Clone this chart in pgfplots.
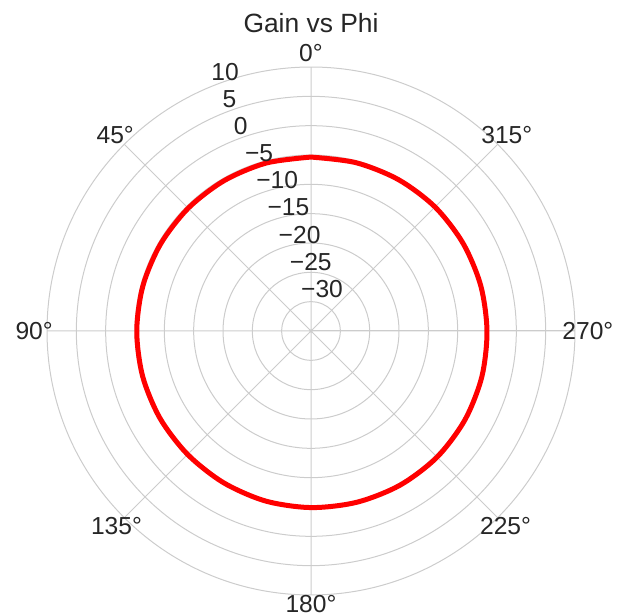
\documentclass[border=0pt]{standalone}
\usepackage{pgfplots}
\pgfplotsset{compat=1.18}
\usepgfplotslibrary{polar}
\usepackage{pgfplotstable}
\usepackage{fontspec}
\setmainfont{Liberation Sans}
\definecolor{gridgray}{HTML}{CCCCCC}
\definecolor{txt}{HTML}{262626}
\pgfplotstableread{
phi gain
0 -5.35
15 -5.37
30 -5.40
45 -5.40
60 -5.38
75 -5.33
90 -5.30
105 -5.28
120 -5.27
135 -5.25
150 -5.15
165 -5.00
180 -4.90
195 -4.78
210 -4.65
225 -4.60
240 -4.70
255 -4.85
270 -5.00
285 -5.05
300 -5.08
315 -5.10
330 -5.20
345 -5.30
360 -5.35
}\gaindata
\begin{document}
\begin{tikzpicture}
\begin{polaraxis}[
  width=264pt, height=264pt, scale only axis,
  ymin=0, ymax=45,
  xtick={0,45,...,315},
  ytick={5,10,...,40},
  xticklabels={}, yticklabels={},
  major tick length=0pt,
  grid=major,
  major grid style={draw=gridgray, line width=0.5pt},
  axis line style={draw=gridgray, line width=0.5pt},
  clip=false,
  font=\fontsize{12.3}{14}\selectfont,
]
\addplot[red, line width=2.5pt, smooth] table[x expr=\thisrow{phi}+90, y expr=\thisrow{gain}+35] {\gaindata};
\coordinate (C) at (axis cs:0,0);
% angular labels
\node[txt, anchor=center] at (axis cs:90,47.4) {0°};
\node[txt, anchor=center] at (axis cs:135,47.2) {45°};
\node[txt, anchor=center] at (axis cs:180,47.2) {90°};
\node[txt, anchor=center] at (axis cs:225,46.9) {135°};
\node[txt, anchor=center] at (axis cs:270,46.5) {180°};
\node[txt, anchor=center] at (axis cs:315,46.9) {225°};
\node[txt, anchor=center] at (axis cs:0,47.2) {270°};
\node[txt, anchor=center] at (axis cs:45,47.2) {315°};
% radial labels
\node[txt, anchor=south west, inner xsep=0.5pt, inner ysep=3pt] at (axis cs:112.5,5) {−30};
\node[txt, anchor=south west, inner xsep=0.5pt, inner ysep=3pt] at (axis cs:112.5,10) {−25};
\node[txt, anchor=south west, inner xsep=0.5pt, inner ysep=3pt] at (axis cs:112.5,15) {−20};
\node[txt, anchor=south west, inner xsep=0.5pt, inner ysep=3pt] at (axis cs:112.5,20) {−15};
\node[txt, anchor=south west, inner xsep=0.5pt, inner ysep=3pt] at (axis cs:112.5,25) {−10};
\node[txt, anchor=south west, inner xsep=0.5pt, inner ysep=3pt] at (axis cs:112.5,30) {−5};
\node[txt, anchor=south west, inner xsep=0.5pt, inner ysep=3pt] at (axis cs:112.5,35) {0};
\node[txt, anchor=south west, inner xsep=0.5pt, inner ysep=3pt] at (axis cs:112.5,40) {5};
\node[txt, anchor=south west, inner xsep=0.5pt, inner ysep=3pt] at (axis cs:112.5,45) {10};
% title
\node[txt, anchor=base, yshift=17.5pt, font=\fontsize{13.2}{15}\selectfont] at (axis cs:90,45) {Gain vs Phi};
\end{polaraxis}
\pgfresetboundingbox
\path[use as bounding box] ([shift={(-155.5pt,-142pt)}]C) rectangle ([shift={(157.5pt,165.5pt)}]C);
\end{tikzpicture}
\end{document}
